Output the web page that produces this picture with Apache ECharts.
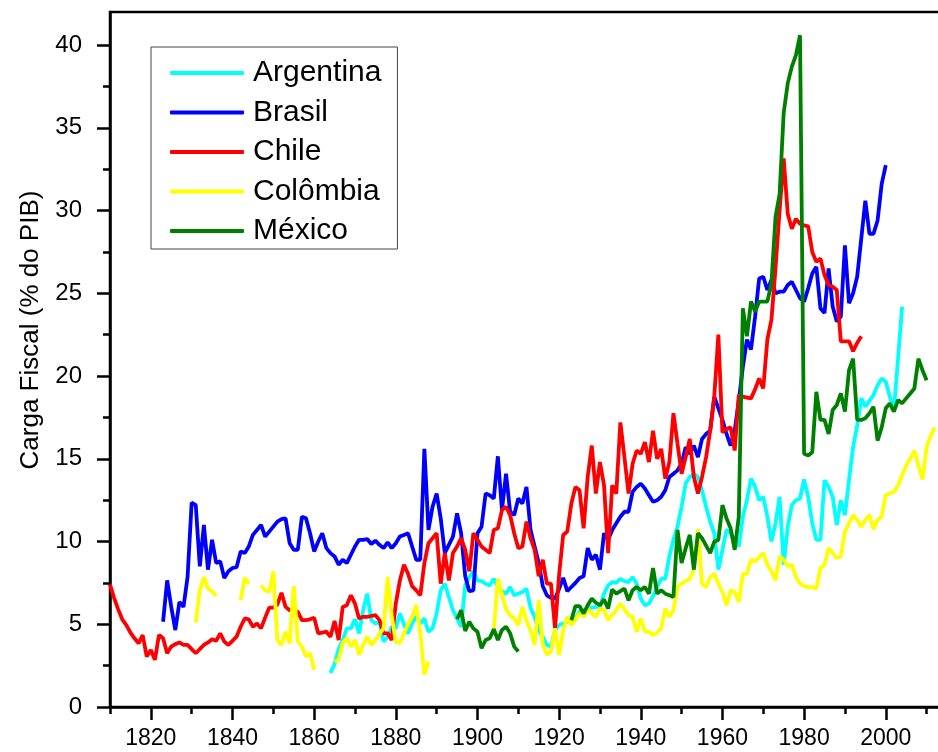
<!DOCTYPE html>
<html>
<head>
<meta charset="utf-8">
<script src="https://cdn.jsdelivr.net/npm/echarts@6/dist/echarts.min.js"></script>
<style>
  html, body { margin: 0; padding: 0; background: #fff; overflow: hidden; }
  #chart { width: 960px; height: 752px; }
</style>
</head>
<body>
<div id="chart"></div>
<script>
// Carga fiscal (% do PIB), valores anuais; null = sem dado
const countries = ['Argentina', 'Brasil', 'Chile', 'Colômbia', 'México'];

const argentinaStart = 1864;
const argentina = [
  2.05, 2.6, 3.5, 4.05, 4.75, 4.75,
  5.3, 4.45, 5.85, 6.85, 5.25, 5.05, 5.15, 3.95, 4.25, 4.85,
  4.75, 5.65, 5.0, 4.45, 5.05, 5.45, 5.05, 5.35, 4.55, 4.75,
  5.65, 7.05, 7.45, 6.65, 5.85, 5.35, 4.85, 7.35, 7.85, 8.2,
  7.65, 7.6, 7.45, 7.35, 7.75, 7.25, 7.0, 6.85, 7.25, 6.75,
  6.85, 6.95, 7.15, 6.0, 5.45, 4.65, 4.25, 3.75, 3.65, 4.65,
  4.95, 5.05, 5.15, 5.3, 5.35, 5.75, 5.85, 5.95, 6.0, 6.05,
  6.05, 6.85, 7.35, 7.55, 7.5, 7.75, 7.6, 7.55, 7.85, 7.45,
  6.55, 6.15, 6.25, 6.7, 7.25, 7.75, 7.75, 9.1, 10.1, 10.9,
  12.1, 13.5, 13.9, 14.1, 13.9, 13.1, 12.1, 11.2, 10.5, 8.3,
  9.5, 10.7, 10.5, 10.1, 9.7, 11.5, 12.5, 13.8, 13.3, 12.5,
  12.7, 11.5, 10.0, 11.1, 12.7, 8.6, 10.9, 12.2, 12.5, 12.6,
  13.75, 12.7, 11.1, 10.1, 10.1, 13.7, 13.3, 12.7, 11.0, 12.5,
  11.6, 13.7, 15.7, 17.0, 18.65, 18.15, 18.5, 18.85, 19.45, 19.85,
  19.65, 18.75, 17.95, 21.0, 24.2
];

const brasilStart = 1823;
const brasil = [
  5.15, 7.65, 6.05, 4.65, 6.35, 6.05, 7.85,
  12.35, 12.2, 8.5, 11.0, 8.3, 10.1, 8.7, 8.8, 7.8, 8.2,
  8.4, 8.45, 9.4, 9.3, 9.7, 10.4, 10.7, 11.0, 10.3, 10.6,
  10.9, 11.2, 11.35, 11.4, 9.9, 9.5, 9.5, 11.5, 11.4, 10.5,
  9.4, 10.0, 10.5, 9.6, 9.3, 9.1, 8.6, 8.9, 8.7, 9.2,
  9.7, 10.1, 10.1, 10.15, 9.85, 10.05, 9.8, 9.6, 9.95, 9.6,
  9.9, 10.3, 10.4, 10.5, 9.7, 8.9, 8.9, 15.6, 10.7, 12.1,
  12.9, 11.4, 9.3, 9.8, 10.3, 11.7, 10.5, 7.9, 7.0, 7.05,
  10.5, 10.9, 12.9, 12.8, 12.6, 15.15, 11.9, 14.1, 11.8, 11.6,
  12.6, 12.3, 13.3, 10.7, 9.7, 8.7, 7.3, 6.75, 6.6, 6.55,
  7.15, 7.8, 7.0, 7.25, 7.5, 7.8, 7.9, 9.6, 8.9, 9.2,
  8.3, 10.5, 10.1, 10.7, 11.1, 11.5, 11.8, 11.8, 13.0, 13.3,
  13.5, 13.2, 12.8, 12.4, 12.5, 12.7, 13.1, 13.9, 14.1, 14.3,
  14.7, 15.7, 15.3, 15.8, 15.1, 16.2, 16.5, 16.7, 18.75, 18.05,
  17.35, 16.5, 15.8, 16.7, 18.5, 20.55, 22.2, 21.6, 23.6, 25.9,
  26.0, 25.2, 25.8, 25.0, 25.1, 25.1, 25.5, 25.7, 25.2, 24.7,
  24.5, 25.3, 26.2, 26.6, 24.1, 23.8, 26.5, 24.2, 23.3, 23.6,
  27.9, 24.4, 25.0, 26.0, 28.3, 30.6, 28.6, 28.6, 29.4, 31.6,
  32.75
];

const chileStart = 1810;
const chile = [
  7.4, 6.6, 5.9, 5.3, 4.95, 4.5, 4.15, 3.85, 4.35, 3.05,
  3.45, 2.85, 4.35, 4.15, 3.25, 3.65, 3.8, 3.9, 3.75, 3.75,
  3.5, 3.25, 3.5, 3.75, 3.9, 4.1, 4.0, 4.45, 3.95, 3.75,
  4.0, 4.25, 4.85, 5.35, 5.3, 4.85, 5.05, 4.75, 5.4, 6.0,
  6.0, 6.2, 6.9, 6.05, 5.85, 5.8, 5.75, 5.25, 5.25, 5.3,
  5.4, 4.45, 4.5, 4.55, 4.25, 5.2, 4.05, 6.05, 6.15, 6.75,
  6.25, 5.35, 5.45, 5.45, 5.5, 5.55, 5.25, 4.45, 4.45, 4.05,
  6.25, 7.65, 8.6, 8.05, 7.3, 7.05, 6.75, 8.7, 9.9, 10.2,
  10.5, 7.45, 9.3, 7.65, 9.3, 9.7, 10.2, 9.5, 8.2, 10.5,
  10.1, 9.7, 9.5, 9.3, 10.7, 10.8, 11.9, 12.1, 11.6, 10.5,
  9.6, 9.7, 11.2, 10.2, 9.5, 7.9, 8.9, 7.45, 7.45, 4.75,
  8.0, 10.4, 10.6, 12.3, 13.3, 13.1, 10.8, 13.9, 15.8, 12.9,
  14.8, 13.4, 9.3, 13.4, 12.9, 17.2, 15.1, 12.9, 14.7, 15.5,
  15.3, 16.0, 14.8, 16.7, 15.0, 15.6, 13.8, 14.8, 17.75, 15.9,
  14.1, 15.1, 16.2, 13.9, 12.9, 13.9, 15.1, 16.7, 18.75, 22.5,
  16.6, 16.8, 16.9, 15.5, 18.85, 18.75, 18.7, 18.65, 19.2, 19.85,
  19.25, 22.2, 23.4, 26.5, 30.0, 33.15, 29.8, 28.9, 29.5, 29.2,
  29.1, 29.05, 27.5, 26.9, 27.1, 26.1, 25.5, 25.4, 25.2, 22.1,
  22.1, 22.1, 21.5, 22.0, 22.4
];

const colombiaStart = 1831;
const colombia = [
  5.1, 7.05, 7.85, 7.15, 7.0, 6.7, null, null, null,
  null, null, 6.45, 7.8, 7.45, null, null, 7.35, 7.05, 6.95,
  8.2, 4.05, 3.75, 4.55, 3.85, 7.3, 3.95, 3.65, 3.05, 3.25,
  2.25, null, null, null, null, 2.75, 2.85, 3.85, 4.15, 3.65,
  4.05, 3.15, 3.75, 4.25, 3.75, 4.05, 4.4, 4.75, 7.85, 5.5,
  3.95, 3.85, 4.45, 5.0, 5.45, 6.15, 4.45, 1.95, 2.75, null,
  null, null, null, null, null, null, null, null, null, null,
  null, null, null, null, 4.65, 7.75, 6.8, 5.9, 5.55,
  5.35, 4.95, 6.05, 5.2, 4.65, 3.75, 6.45, 3.75, 3.15, 3.35,
  4.75, 3.15, 4.65, 5.45, 4.95, 5.3, 5.65, 5.45, 5.95, 5.65,
  5.45, 5.95, 5.85, 5.25, 5.55, 5.85, 6.25, 5.9, 5.55, 5.45,
  4.55, 5.35, 4.55, 4.55, 4.35, 4.5, 4.75, 5.95, 5.45, 5.85,
  7.25, 7.45, 7.6, 7.75, 8.3, 10.75, 7.45, 7.25, 7.85, 8.05,
  7.45, 6.95, 6.15, 7.05, 6.95, 6.35, 8.05, 8.05, 8.9, 8.8,
  9.05, 9.3, 8.6, 8.2, 7.65, 9.1, 8.9, 8.5, 8.6, 7.85,
  7.45, 7.3, 7.25, 7.25, 7.15, 8.4, 8.6, 9.6, 9.3, 9.0,
  9.1, 10.6, 11.1, 11.6, 11.3, 10.9, 11.3, 11.6, 10.75, 11.3,
  11.5, 12.8, 12.9, 13.0, 13.4, 14.0, 14.6, 15.0, 15.5, 14.6,
  13.75, 15.7, 16.4, 16.9
];

const mexicoStart = 1895;
const mexico = [
  5.3, 5.85, 4.6, 5.15, 4.75,
  4.55, 3.55, 4.05, 4.15, 4.7, 4.05, 4.65, 4.85, 4.45, 3.65,
  3.35, null, null, null, null, null, null, null, null, null,
  null, null, null, 5.25, 6.1, 6.1, 5.65, 6.15, 6.55, 6.3,
  6.15, 6.5, 5.95, 7.1, 6.85, 7.0, 7.15, 6.45, 7.05, 7.25,
  7.05, 7.25, 6.85, 8.4, 6.85, 7.05, 6.85, 6.75, 6.65, 10.7,
  8.7, 9.6, 10.4, 8.3, 10.5, 10.2, 9.75, 9.3, 10.0, 10.1,
  12.2, 11.4, 10.8, 9.5, 11.5, 24.1, 22.4, 24.5, 23.9, 24.5,
  24.5, 24.5, 25.6, 29.6, 31.0, 35.9, 37.7, 38.7, 39.4, 40.6,
  15.3, 15.2, 15.4, 19.05, 17.35, 17.35, 16.5, 17.95, 18.25, 18.95,
  17.85, 20.35, 21.05, 17.35, 17.35, 17.45, 17.75, 18.15, 16.1, 16.9,
  18.05, 18.35, 17.85, 18.55, 18.35, 18.65, 18.95, 19.25, 21.05, 20.35,
  19.75
];

// Marcas e rótulos dos eixos
const yearLabels = [1820, 1840, 1860, 1880, 1900, 1920, 1940, 1960, 1980, 2000];
const yearMinor = [1810, 1830, 1850, 1870, 1890, 1910, 1930, 1950, 1970, 1990, 2010];
const valueLabels = [0, 5, 10, 15, 20, 25, 30, 35, 40];
const valueMinor = [2.5, 7.5, 12.5, 17.5, 22.5, 27.5, 32.5, 37.5];

function toPairs(start, values) {
  return values.map((v, i) => [start + i, v]);
}

const FONT = '"Liberation Sans", Arial, Helvetica, sans-serif';
const AXIS_W = 2.5;
const LINE_W = 3.8;

const seriesDefs = [
  { name: countries[0], data: toPairs(argentinaStart, argentina), color: '#00FFFF' },
  { name: countries[1], data: toPairs(brasilStart, brasil), color: '#0000FF' },
  { name: countries[2], data: toPairs(chileStart, chile), color: '#FF0000' },
  { name: countries[3], data: toPairs(colombiaStart, colombia), color: '#FFFF00' },
  { name: countries[4], data: toPairs(mexicoStart, mexico), color: '#008000' }
];

const chart = echarts.init(document.getElementById('chart'), null, { renderer: 'canvas' });

chart.setOption({
  animation: false,
  backgroundColor: '#fff',
  grid: {
    left: 110, top: 12, width: 837, height: 695,
    show: true, borderColor: '#000', borderWidth: AXIS_W, backgroundColor: 'transparent'
  },
  xAxis: [
    {
      type: 'value', min: 1810, max: 2015, position: 'bottom',
      axisLine: { show: true, onZero: false, lineStyle: { color: '#000', width: AXIS_W } },
      axisTick: { show: true, length: 13, customValues: yearLabels, lineStyle: { color: '#000', width: AXIS_W } },
      axisLabel: {
        customValues: yearLabels, formatter: v => String(v),
        fontSize: 23, fontFamily: FONT, color: '#000', margin: 20
      },
      splitLine: { show: false }
    },
    {
      type: 'value', min: 1810, max: 2015, position: 'bottom',
      axisLine: { show: false, onZero: false },
      axisTick: { show: true, length: 7, customValues: yearMinor, lineStyle: { color: '#000', width: AXIS_W } },
      axisLabel: { show: false },
      splitLine: { show: false }
    }
  ],
  yAxis: [
    {
      type: 'value', min: 0, max: 42, position: 'left',
      axisLine: { show: true, onZero: false, lineStyle: { color: '#000', width: AXIS_W } },
      axisTick: { show: true, length: 13, customValues: valueLabels, lineStyle: { color: '#000', width: AXIS_W } },
      axisLabel: {
        customValues: valueLabels, formatter: v => String(v),
        fontSize: 24, fontFamily: FONT, color: '#000', margin: 28
      },
      splitLine: { show: false }
    },
    {
      type: 'value', min: 0, max: 42, position: 'left',
      axisLine: { show: false, onZero: false },
      axisTick: { show: true, length: 7, customValues: valueMinor, lineStyle: { color: '#000', width: AXIS_W } },
      axisLabel: { show: false },
      splitLine: { show: false }
    }
  ],
  legend: {
    data: countries,
    orient: 'vertical',
    left: 151, top: 47,
    padding: [11, 16, 3, 19],
    icon: 'roundRect',
    itemWidth: 74, itemHeight: 4, itemGap: 9.5,
    backgroundColor: '#fff', borderColor: '#444', borderWidth: 1,
    textStyle: { fontSize: 30, fontFamily: FONT, color: '#000', lineHeight: 30, padding: [0, 0, 0, 4] }
  },
  graphic: [{
    type: 'text',
    x: 31, y: 330,
    rotation: Math.PI / 2,
    style: {
      text: 'Carga Fiscal (% do PIB)',
      fontSize: 26, fontFamily: FONT, fill: '#000',
      align: 'center', verticalAlign: 'middle'
    }
  }],
  series: seriesDefs.map(s => ({
    name: s.name,
    type: 'line',
    xAxisIndex: 0, yAxisIndex: 0,
    data: s.data,
    showSymbol: false, symbol: 'none',
    connectNulls: false,
    lineStyle: { color: s.color, width: LINE_W },
    itemStyle: { color: s.color },
    emphasis: { disabled: true }
  }))
});
</script>
</body>
</html>
